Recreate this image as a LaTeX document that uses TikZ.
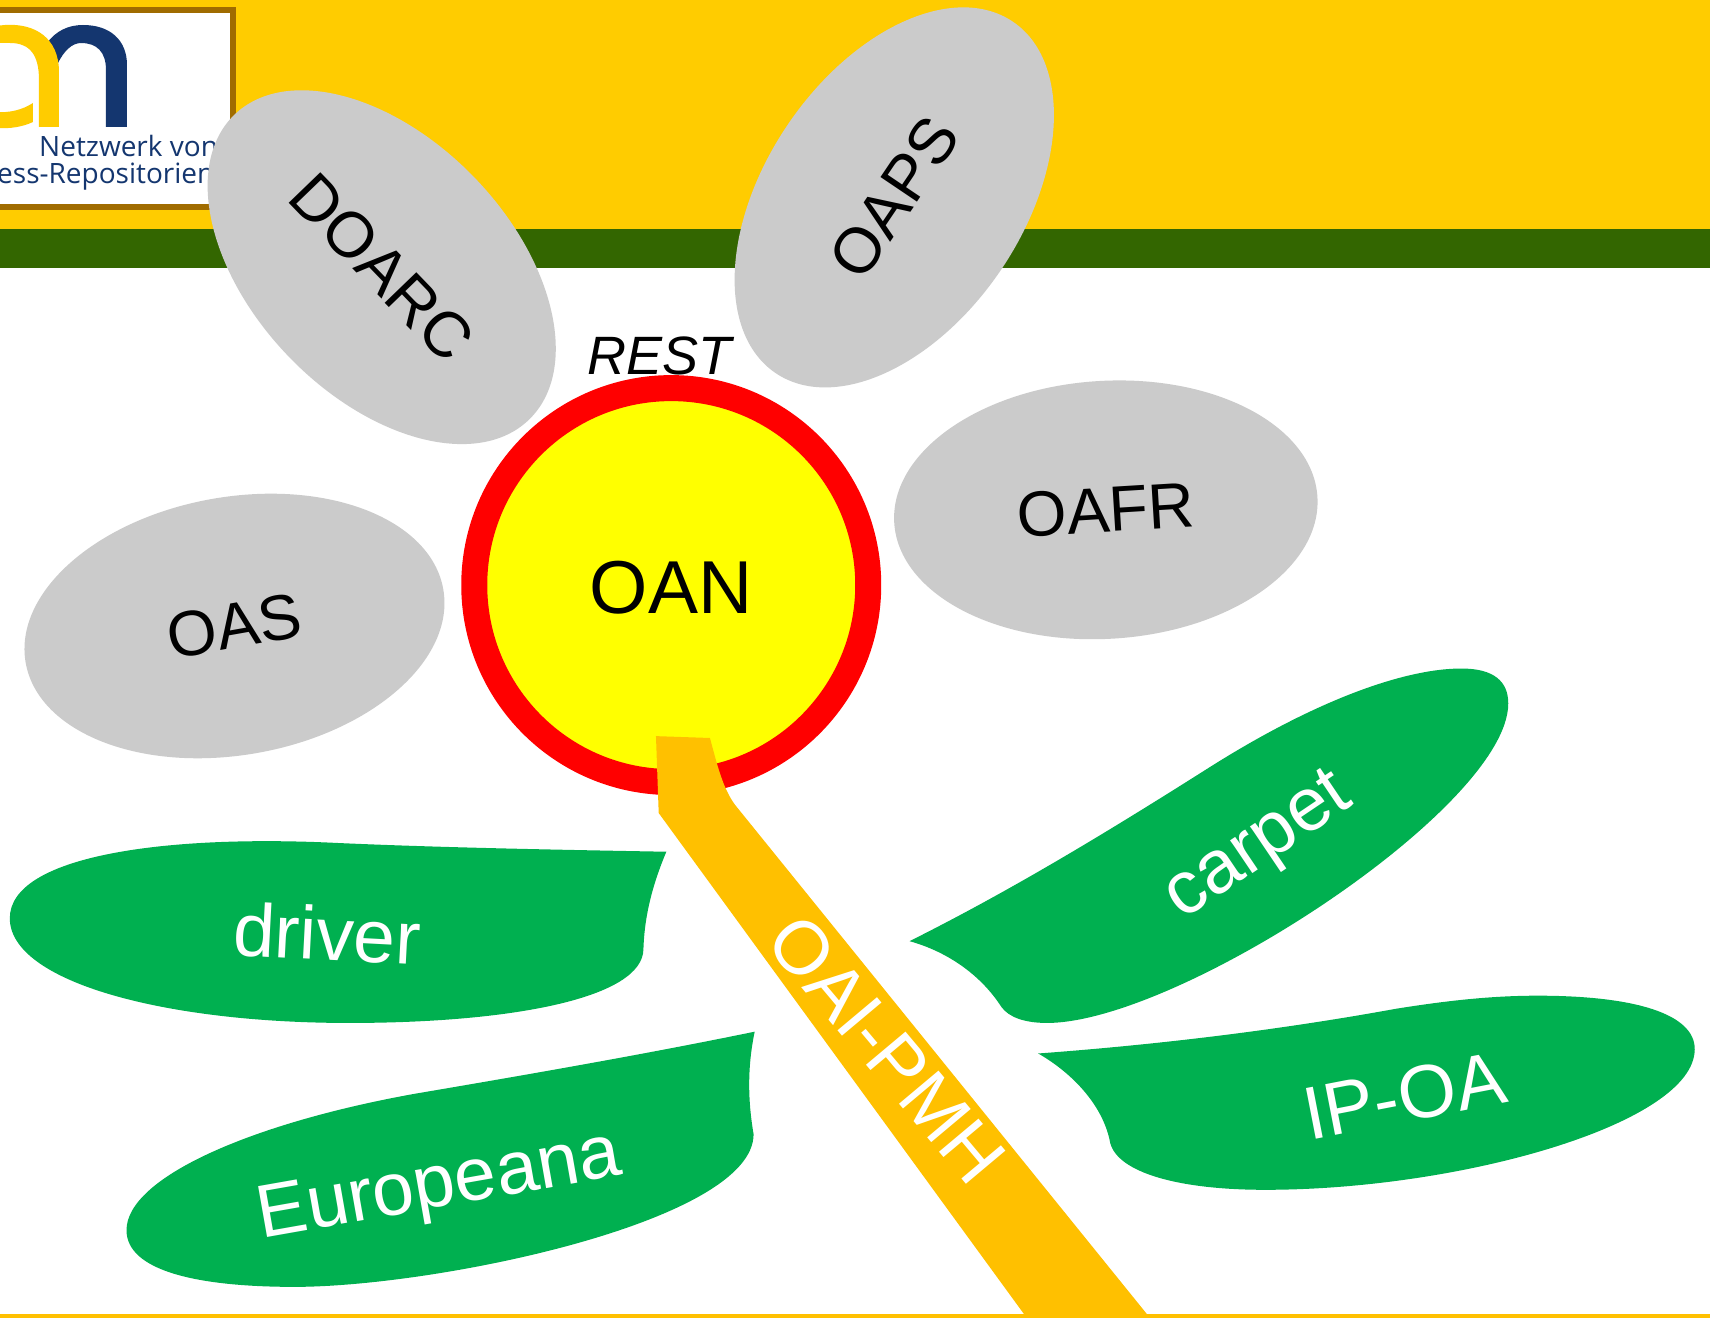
\documentclass[tikz,border=0pt]{standalone}
\usepackage{fontspec}
\setmainfont{Liberation Sans}
\newfontfamily\logofont{Open Sans}
\usetikzlibrary{shapes.geometric}
\definecolor{bandyellow}{HTML}{FFCC00}
\definecolor{bandgreen}{HTML}{336600}
\definecolor{logoframe}{HTML}{A06C00}
\definecolor{logoblue}{HTML}{14366F}
\definecolor{petalgray}{HTML}{CBCBCB}
\definecolor{leafgreen}{HTML}{00B050}
\definecolor{stemorange}{HTML}{FFC000}
\definecolor{headyellow}{RGB}{255,255,0}
\definecolor{headred}{RGB}{255,0,0}
\tikzset{
  petal/.style={ellipse,fill=petalgray,minimum width=424pt,minimum height=258pt,inner sep=0pt,font=\fontsize{64}{64}\selectfont,text=black},
  leaf/.style={fill=leafgreen},
  leaflabel/.style={inner sep=0pt,text=white,font=\fontsize{75}{75}\selectfont},
  logotext/.style={inner sep=0pt,anchor=base west,text=logoblue,font=\logofont\fontsize{28}{28}\selectfont}
}
\begin{document}
\begin{tikzpicture}[x=1.0906pt,y=-1.0906pt]
\useasboundingbox (0,0) rectangle (1568,1208.5);
\fill[white] (0,0) rectangle (1568,1208.5);
% header bands
\fill[bandyellow] (0,0) rectangle (1568,210);
\fill[bandgreen] (0,210) rectangle (1568,245.7);
\fill[stemorange] (0,1205) rectangle (1568,1208.5);
% logo
\begin{scope}[x=1pt,y=-1pt]
\fill[white] (-10,10) rectangle (233,207);
\draw[logoframe,line width=6pt] (-10,10) -- (233,10) -- (233,207) -- (-10,207);
\fill[logoblue] (47,43) .. controls (56,31) and (68,25) .. (83,25) .. controls (110,25) and (127,40) .. (127,65) -- (127,127) -- (106,127) -- (106,70) .. controls (106,52) and (97,43) .. (81,43) .. controls (72,43) and (64,51) .. (58,63) -- cycle;
\fill[bandyellow] (-5,26) -- (5,25) .. controls (35,23) and (59,38) .. (59,72) -- (59,127) -- (39,127) -- (39,80) .. controls (39,55) and (30,43) .. (10,43) -- (-5,43) -- cycle;
\fill[bandyellow] (-5,112) .. controls (10,113) and (22,110) .. (33,103) -- (33,122) .. controls (22,127) and (10,129) .. (-5,128) -- cycle;
\node[logotext] (logoa) at (39,157) {Netzwerk von};
\node[logotext] (logob) at (-3,184) {ess-Repositorien};
\end{scope}
% stem and flower head
\node[circle,draw=headred,fill=headyellow,line width=26pt,minimum size=394pt,inner sep=0pt,text height=57pt,text depth=0pt,font=\fontsize{75}{75}\selectfont] (oan) at (615.5,536.5) {OAN};
\fill[stemorange] (601.5,675) -- (651,676.7) .. controls (658,703) and (663,723) .. (674,738) -- (1051.7,1205) -- (1051.7,1208.5) -- (939,1208.5) -- (939,1205) -- (604,745.5) -- cycle;
\node[inner sep=0pt,text=white,rotate=-50,font=\fontsize{75}{75}\selectfont] (oai) at (813,962) {OAI-PMH};
% petals
\node[petal,rotate=-46] (doarc) at (350,245) {DOARC};
\node[petal,rotate=56] (oaps) at (820,181) {OAPS};
\node[petal,rotate=10] (oas) at (215,574) {OAS};
\node[petal,rotate=3.5] (oafr) at (1014,467.5) {OAFR};
\node[inner sep=0pt,font=\itshape\fontsize{54}{54}\selectfont] (rest) at (605,326) {REST};
% leaves
\fill[leaf] (611,781) .. controls (500,779) and (400,777) .. (310,773) .. controls (150,765) and (9,785) .. (9,842) .. controls (9,900) and (150,938) .. (320,938) .. controls (470,938) and (590,915) .. (590,870) .. controls (591,840) and (598,812) .. (611,781) -- cycle;
\fill[leaf] (692,946) .. controls (590,967) and (480,986) .. (380,1003) .. controls (230,1030) and (116,1080) .. (116,1128) .. controls (116,1165) and (180,1180) .. (270,1180) .. controls (400,1180) and (691,1120) .. (691,1040) .. controls (685,1005) and (686,975) .. (692,946) -- cycle;
\fill[leaf] (834,863) .. controls (930,815) and (1020,760) .. (1110,703) .. controls (1210,640) and (1290,613) .. (1340,613) .. controls (1370,613) and (1383,625) .. (1383,645) .. controls (1383,740) and (1080,938) .. (960,938) .. controls (940,938) and (925,933) .. (918,923) .. controls (900,895) and (870,873) .. (834,863) -- cycle;
\fill[leaf] (952,966) .. controls (1060,958) and (1170,945) .. (1280,925) .. controls (1330,917) and (1370,913) .. (1410,913) .. controls (1500,913) and (1554,930) .. (1554,962) .. controls (1554,1030) and (1340,1091) .. (1160,1091) .. controls (1080,1091) and (1025,1075) .. (1018,1048) .. controls (1012,1015) and (985,985) .. (952,966) -- cycle;
\node[leaflabel,rotate=-3] (driver) at (300,856) {driver};
\node[leaflabel,rotate=10] (europeana) at (403,1090) {Europeana};
\node[leaflabel,rotate=34] (carpet) at (1155,778) {carpet};
\node[leaflabel,rotate=11] (ipoa) at (1288,1005) {IP-OA};
\end{tikzpicture}
\end{document}
